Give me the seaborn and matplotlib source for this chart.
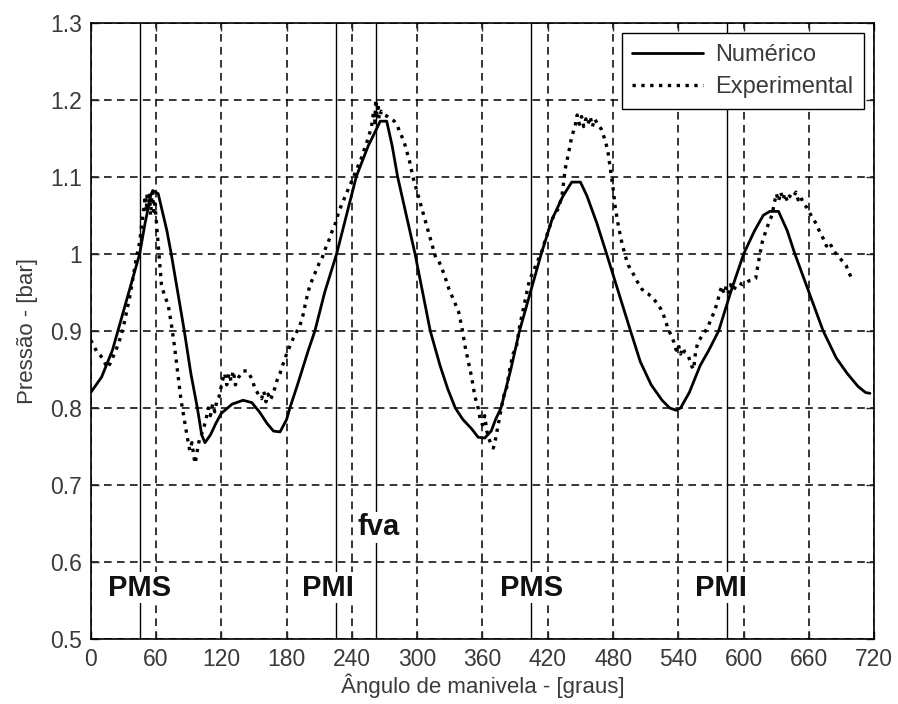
import numpy as np
import pandas as pd
import matplotlib
matplotlib.use("Agg")
import matplotlib.pyplot as plt
import seaborn as sns

# numerical model (solid)
num_ang = [0, 10, 20, 30, 40, 45, 50, 55, 57, 62, 70, 74, 80, 86, 92, 98, 102, 105,
           110, 115, 120, 130, 140, 148, 155, 162, 168, 174, 180, 183, 190, 200, 206,
           215, 226, 235, 244, 255, 262, 266, 272, 277, 282, 290, 298, 305, 312, 321,
           328, 335, 342, 350, 356, 362, 368, 372, 377, 386, 394, 404, 414, 424, 434,
           442, 450, 456, 465, 474, 485, 496, 505, 515, 525, 532, 538, 542, 550, 560,
           568, 577, 588, 600, 610, 618, 624, 632, 640, 647, 660, 673, 685, 695, 705,
           712, 716]
num_p = [0.820, 0.840, 0.875, 0.925, 0.975, 1.000, 1.040, 1.075, 1.082, 1.078, 1.030,
         1.000, 0.950, 0.900, 0.845, 0.800, 0.765, 0.755, 0.765, 0.780, 0.793, 0.805,
         0.810, 0.807, 0.795, 0.780, 0.770, 0.769, 0.785, 0.800, 0.830, 0.875, 0.900,
         0.950, 1.000, 1.050, 1.100, 1.140, 1.160, 1.172, 1.172, 1.140, 1.100, 1.050,
         1.000, 0.950, 0.900, 0.855, 0.825, 0.800, 0.785, 0.773, 0.762, 0.761, 0.770,
         0.785, 0.800, 0.850, 0.900, 0.950, 1.000, 1.045, 1.075, 1.093, 1.093, 1.075,
         1.040, 1.000, 0.950, 0.900, 0.860, 0.830, 0.810, 0.800, 0.797, 0.800, 0.820,
         0.855, 0.875, 0.900, 0.950, 1.000, 1.030, 1.050, 1.055, 1.055, 1.030, 1.000,
         0.950, 0.900, 0.865, 0.845, 0.828, 0.820, 0.819]

# experimental (dotted)
exp_ang = [0, 3, 6, 9, 12, 15, 18, 21, 24, 27, 30, 33, 36, 39, 42, 45, 47, 49, 50, 51,
           52, 53, 54, 55, 56, 57, 58, 59, 61, 63, 65, 68, 71, 74, 77, 80, 83, 86, 89,
           91, 93, 95, 96, 98, 100, 103, 106, 108, 110, 112, 114, 116, 118, 121, 123,
           125, 127, 129, 131, 133, 136, 140, 144, 148, 151, 154, 157, 159, 161, 163,
           165, 168, 171, 174, 177, 180, 183, 186, 189, 192, 195, 198, 201, 204, 207,
           210, 213, 216, 219, 222, 225, 228, 231, 234, 237, 240, 243, 246, 249, 252,
           255, 258, 260, 261, 262, 263, 264, 265, 267, 270, 273, 276, 279, 282, 285,
           288, 290, 293, 296, 299, 302, 305, 308, 311, 314, 317, 320, 323, 326, 329,
           332, 335, 338, 341, 344, 347, 350, 353, 356, 358, 360, 362, 364, 366, 368,
           370, 372, 374, 376, 378, 380, 382, 385, 388, 391, 394, 397, 400, 403, 406,
           409, 412, 415, 418, 421, 424, 427, 430, 433, 436, 439, 442, 445, 447, 449,
           451, 453, 455, 457, 459, 461, 463, 466, 469, 472, 475, 478, 480, 482, 485,
           488, 491, 494, 497, 500, 503, 506, 509, 512, 515, 518, 521, 524, 527, 530,
           533, 536, 538, 540, 542, 544, 546, 549, 552, 554, 556, 558, 561, 564, 567,
           570, 573, 576, 578, 580, 582, 584, 586, 588, 590, 593, 596, 599, 602, 605,
           608, 611, 613, 615, 617, 620, 623, 626, 628, 630, 632, 634, 636, 638, 640,
           642, 645, 648, 650, 652, 655, 658, 661, 664, 667, 670, 673, 676, 679, 682,
           685, 688, 691, 694, 697, 700]
exp_p = [0.888, 0.880, 0.872, 0.868, 0.862, 0.852, 0.858, 0.868, 0.878, 0.890, 0.905,
         0.925, 0.945, 0.970, 0.995, 1.015, 1.040, 1.060, 1.075, 1.055, 1.080, 1.060,
         1.078, 1.050, 1.070, 1.080, 1.055, 1.065, 1.030, 0.995, 0.960, 0.945, 0.935,
         0.910, 0.880, 0.845, 0.810, 0.785, 0.760, 0.745, 0.755, 0.735, 0.728, 0.745,
         0.760, 0.770, 0.785, 0.800, 0.790, 0.805, 0.795, 0.810, 0.815, 0.835, 0.845,
         0.830, 0.845, 0.835, 0.848, 0.830, 0.840, 0.848, 0.848, 0.838, 0.825, 0.818,
         0.812, 0.822, 0.808, 0.818, 0.810, 0.820, 0.835, 0.845, 0.858, 0.870, 0.880,
         0.890, 0.898, 0.906, 0.920, 0.940, 0.957, 0.968, 0.978, 0.988, 0.996, 1.008,
         1.018, 1.030, 1.040, 1.055, 1.065, 1.075, 1.085, 1.095, 1.105, 1.115, 1.125,
         1.138, 1.150, 1.165, 1.185, 1.170, 1.200, 1.180, 1.195, 1.175, 1.185, 1.180,
         1.178, 1.175, 1.172, 1.165, 1.155, 1.145, 1.135, 1.120, 1.100, 1.085, 1.070,
         1.055, 1.040, 1.025, 1.010, 0.995, 0.990, 0.980, 0.968, 0.955, 0.945, 0.935,
         0.925, 0.905, 0.880, 0.860, 0.840, 0.815, 0.800, 0.785, 0.778, 0.790, 0.770,
         0.760, 0.752, 0.748, 0.760, 0.775, 0.790, 0.805, 0.818, 0.825, 0.850, 0.870,
         0.878, 0.905, 0.925, 0.945, 0.965, 0.975, 0.985, 0.995, 1.005, 1.020, 1.032,
         1.045, 1.052, 1.060, 1.075, 1.110, 1.130, 1.152, 1.165, 1.180, 1.168, 1.178,
         1.165, 1.175, 1.168, 1.178, 1.165, 1.175, 1.168, 1.162, 1.150, 1.135, 1.105,
         1.085, 1.060, 1.035, 1.015, 0.998, 0.985, 0.978, 0.970, 0.962, 0.955, 0.950,
         0.948, 0.945, 0.940, 0.935, 0.928, 0.918, 0.905, 0.895, 0.885, 0.875, 0.882,
         0.870, 0.878, 0.872, 0.868, 0.855, 0.850, 0.875, 0.885, 0.892, 0.898, 0.905,
         0.915, 0.925, 0.938, 0.950, 0.958, 0.948, 0.958, 0.950, 0.960, 0.952, 0.958,
         0.962, 0.960, 0.962, 0.965, 0.966, 0.968, 0.985, 1.000, 1.015, 1.028, 1.040,
         1.050, 1.065, 1.078, 1.068, 1.080, 1.070, 1.078, 1.068, 1.075, 1.072, 1.080,
         1.070, 1.075, 1.065, 1.060, 1.052, 1.045, 1.038, 1.028, 1.020, 1.010, 1.015,
         1.005, 1.000, 0.995, 0.990, 0.985, 0.975, 0.965]

# piston events
event_ang = [45, 225, 262, 405, 585]
label_txt = ["PMS", "PMI", "fva", "PMS", "PMI"]
label_ang = [45, 218, 265, 405, 579]
label_p = [0.567, 0.567, 0.645, 0.567, 0.567]

xticks = list(range(0, 721, 60))
yticks = [0.5, 0.6, 0.7, 0.8, 0.9, 1.0, 1.1, 1.2, 1.3]
ytick_labels = ["0.5", "0.6", "0.7", "0.8", "0.9", "1", "1.1", "1.2", "1.3"]

sns.set_style("ticks")
plt.rcParams['font.family'] = ['Liberation Sans', 'DejaVu Sans']

num_df = pd.DataFrame({'ang': num_ang, 'p': num_p})
exp_df = pd.DataFrame({'ang': exp_ang, 'p': exp_p})

fig = plt.figure(figsize=(8.98, 7.04), dpi=100)
ax = fig.add_axes([0.101, 0.092, 0.8726, 0.876])

sns.lineplot(data=num_df, x='ang', y='p', ax=ax, color='k', lw=2.0,
             label='Numérico', sort=False)
sns.lineplot(data=exp_df, x='ang', y='p', ax=ax, color='k', lw=2.4,
             linestyle=':', label='Experimental', sort=False)

for a in event_ang:
    ax.axvline(a, color='k', lw=1.0, zorder=1)
for t, a, p in zip(label_txt, label_ang, label_p):
    ax.text(a, p, t, ha='center', va='center', fontsize=21, fontweight='bold',
            color='#111111', zorder=3,
            bbox=dict(facecolor='white', edgecolor='none', pad=1.0))

ax.set_xlim(0, 720)
ax.set_ylim(0.5, 1.3)
ax.set_xticks(xticks)
ax.set_yticks(yticks)
ax.set_yticklabels(ytick_labels)
ax.grid(True, color='k', lw=1.1, linestyle=(0, (5, 3.5)))
ax.tick_params(direction='in', length=6, width=1, top=True, right=True,
               labelsize=16.5, labelcolor='#3a3a3a', pad=6)
for s in ax.spines.values():
    s.set_color('k')
    s.set_linewidth(1.2)

ax.set_xlabel('Ângulo de manivela - [graus]', fontsize=16, color='#3a3a3a', labelpad=2)
ax.set_ylabel('Pressão - [bar]', fontsize=16, color='#3a3a3a', labelpad=9)

leg = ax.legend(loc='upper right', fontsize=17, frameon=True, fancybox=False,
                handlelength=3.0, borderaxespad=0.45, labelspacing=0.45,
                handletextpad=0.5, borderpad=0.45)
leg.get_frame().set_edgecolor('k')
leg.get_frame().set_linewidth(1.0)
leg.get_frame().set_alpha(1)
for t in leg.get_texts():
    t.set_color('#3a3a3a')

fig.savefig('out.png', dpi=100)
